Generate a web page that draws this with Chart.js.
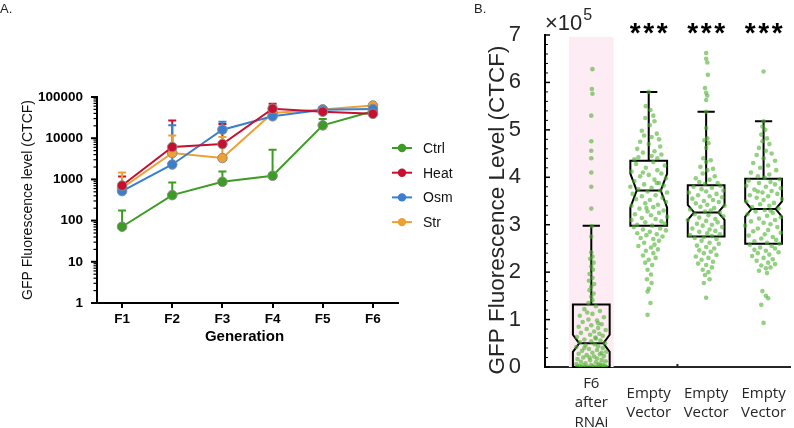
<!DOCTYPE html>
<html><head><meta charset="utf-8">
<script src="https://cdn.jsdelivr.net/npm/chart.js@4.4.0/dist/chart.umd.min.js"></script>
<style>
html,body{margin:0;padding:0;background:#fff;}
body{width:794px;height:428px;position:relative;overflow:hidden;}
#ca{position:absolute;left:0;top:0;}
#cb{position:absolute;left:400px;top:0;}
</style></head><body>
<canvas id="ca" width="470" height="350"></canvas>
<canvas id="cb" width="394" height="428"></canvas>
<script>
// ---------- Panel A data ----------
const generations = ['F1','F2','F3','F4','F5','F6'];
const seriesNames = ['Ctrl','Heat','Osm','Str'];
const seriesColors = ['#3d9c23','#c8102e','#3a7fcf','#eea033'];
const ctrlMean = [71, 415, 875, 1225, 20500, 45000];
const ctrlErr  = [175, 840, 1560, 5250, 29300, null];
const heatMean = [710, 6100, 7200, 52000, 44000, 39000];
const heatErr  = [1180, 27000, 22000, 69000, null, null];
const osmMean  = [520, 2300, 16100, 34000, 49000, 51000];
const osmErr   = [null, 20500, 25000, null, 56000, null];
const strMean  = [620, 4370, 3300, 41000, 50000, 62000];
const strErr   = [1470, 11700, 10700, null, null, null];
const yTickLabelsA = ['1','10','100','1000','10000','100000'];
const yTitleA = 'GFP Fluorescence level (CTCF)';
const xTitleA = 'Generation';

// ---------- Panel B data ----------
const groupLabels = [['F6','after','RNAi'],['Empty','Vector'],['Empty','Vector'],['Empty','Vector']];
const groupPos = [1,2,3,4];
const boxQ1     = [0.0, 2.98, 2.75, 2.6];
const boxMedian = [0.5, 3.72, 3.26, 3.33];
const boxQ3     = [1.32, 4.35, 3.83, 3.97];
const notchLo   = [0.32, 3.36, 3.1, 3.17];
const notchHi   = [0.68, 4.08, 3.42, 3.49];
const whiskerHi = [2.98, 5.8, 5.38, 5.18];
const signif    = ['', '***', '***', '***'];
const yTicksB   = [0,1,2,3,4,5,6,7];
const yTitleB   = 'GFP Fluorescence Level (CTCF)';
const yExponentB = '5';
// points: [jitter offset (category units), value ×10^5]
const pts1 = [[0.02,6.28],[0.01,5.86],[0.02,5.76],[0,5.3],[0,4.76],[0,4.56],[0,4.4],[0,4.1],[0,3.8],[0,3.34],
[0.01,2.97],[0,2.75],[0,2.42],[0.02,2.33],[-0.02,2.28],[0.04,2.2],[0,2.12],[0.03,2.05],[-0.03,1.96],[0.02,1.88],[-0.04,1.82],[0.05,1.75],[0,1.69],[-0.03,1.62],[0.04,1.55],[0,1.48],[0.02,1.41],[-0.05,1.35],
[0.08,1.28],[-0.12,1.22],[0.15,1.18],[0.02,1.12],[-0.2,1.08],[0.22,1.05],[-0.05,1.0],[0.1,0.98],[-0.15,0.95],[0.18,0.9],[0,0.88],[-0.22,0.85],[0.12,0.82],[-0.08,0.8],[0.25,0.78],[0.05,0.75],[-0.18,0.72],[0.14,0.7],[-0.02,0.68],[0.2,0.66],[-0.25,0.63],[0.08,0.6],[-0.12,0.58],[0.16,0.56],[0,0.54],[-0.2,0.52],[0.24,0.5],[0.06,0.48],[-0.1,0.46],[0.12,0.44],[-0.26,0.42],[0.2,0.4],[-0.04,0.38],[0.1,0.36],[-0.16,0.34],[0.26,0.32],[0.02,0.3],[-0.22,0.28],[0.15,0.27],[-0.08,0.25],[0.22,0.23],[0.05,0.22],[-0.14,0.2],[0.1,0.18],[-0.24,0.17],[0.18,0.15],[-0.02,0.14],[0.25,0.12],[-0.18,0.11],[0.08,0.1],[-0.1,0.08],[0.14,0.07],[-0.26,0.06],[0.2,0.05],[0,0.04],[-0.14,0.03],[0.12,0.03],[-0.2,0.02],[0.24,0.02],[0.05,0.01],[-0.06,0.01],[0.16,0.02],[-0.24,0.01],[0.1,0],[-0.1,0],[0.2,0],[-0.18,0],[0.02,0.01],[0.26,0],[-0.03,0.2],[0.07,0.62],[-0.07,1.15],[0.12,0.92],[-0.12,0.4],[0.18,0.3]];
const pts2 = [[0,5.8],[-0.05,5.5],[0.03,5.42],[0.08,5.3],[-0.06,5.25],[0.1,5.18],[0.02,5.1],[-0.12,4.98],[0.14,4.92],[-0.08,4.88],[0.05,4.85],[0.18,4.8],[-0.15,4.75],[0,4.7],[0.2,4.65],[-0.2,4.6],[0.1,4.55],[-0.1,4.52],[0.22,4.48],[0.05,4.45],[-0.18,4.42],[0.15,4.4],[-0.25,4.38],
[0.08,4.32],[-0.22,4.28],[0.28,4.25],[-0.05,4.2],[0.15,4.15],[-0.3,4.12],[0.22,4.08],[0,4.05],[-0.15,4.02],[0.3,3.98],[0.1,3.95],[-0.25,3.92],[0.18,3.88],[-0.08,3.85],[0.26,3.82],[-0.32,3.8],[0.05,3.78],[-0.18,3.75],[0.2,3.72],[-0.02,3.7],[0.32,3.68],[-0.28,3.65],[0.12,3.62],[-0.12,3.6],[0.24,3.57],[-0.22,3.54],[0.02,3.52],[0.3,3.48],[-0.06,3.45],[0.16,3.42],[-0.3,3.4],[0.08,3.37],[-0.16,3.34],[0.26,3.3],[-0.02,3.28],[0.18,3.25],[-0.24,3.22],[0.04,3.2],[0.32,3.17],[-0.12,3.14],[0.12,3.12],[-0.3,3.1],[0.22,3.07],[-0.06,3.05],[0.28,3.02],[-0.2,3.0],[0.06,2.98],[0.14,3.88],[-0.1,4.1],[-0.04,3.35],
[-0.26,2.95],[0.2,2.92],[-0.1,2.9],[0.3,2.88],[0.02,2.85],[-0.2,2.82],[0.14,2.8],[-0.04,2.78],[0.24,2.75],[-0.14,2.72],[0.08,2.7],[0.18,2.66],[-0.08,2.62],[0.1,2.58],[-0.18,2.55],[0.04,2.52],[0.16,2.48],[-0.05,2.45],[0.08,2.4],[-0.1,2.35],[0.12,2.3],[0,2.26],[-0.06,2.2],[0.06,2.15],[-0.02,2.05],[0.04,1.95],[-0.03,1.85],[0.05,1.77],[0,1.65],[-0.02,1.59],[0.03,1.35],[-0.02,1.1]];
const pts3 = [[0,6.62],[0,6.5],[0.02,6.42],[0.03,6.16],[-0.02,5.88],[0,5.78],[0.02,5.72],[0,5.63],[0,5.38],[0,5.04],[0.02,4.82],[-0.03,4.78],[0.04,4.72],[0,4.62],[-0.05,4.4],[0.08,4.36],[0,4.32],[-0.1,4.22],[0.12,4.18],[0.02,4.15],[-0.06,4.08],[0.15,4.02],[-0.18,3.98],[0.06,3.95],[-0.12,3.9],[0.2,3.88],[-0.02,3.86],
[0.25,3.82],[-0.22,3.8],[0.1,3.78],[-0.08,3.75],[0.3,3.72],[0,3.7],[-0.3,3.68],[0.18,3.65],[-0.14,3.62],[0.06,3.6],[0.28,3.58],[-0.24,3.55],[0.12,3.52],[-0.04,3.5],[0.22,3.48],[-0.18,3.45],[0.02,3.42],[0.32,3.4],[-0.1,3.38],[0.14,3.35],[-0.28,3.32],[0.08,3.3],[-0.02,3.28],[0.24,3.25],[-0.2,3.22],[0.04,3.2],[0.3,3.18],[-0.12,3.15],[0.16,3.12],[-0.32,3.1],[0,3.08],[0.2,3.05],[-0.16,3.02],[0.1,3.0],[-0.06,2.98],[0.28,2.95],[-0.24,2.92],[0.06,2.9],[0.16,2.87],[-0.12,2.85],[0.02,2.82],[0.24,2.8],[-0.28,2.78],[0.1,2.76],[-0.04,2.74],
[-0.2,2.72],[0.18,2.7],[-0.08,2.66],[0.06,2.62],[0.22,2.6],[-0.16,2.56],[0,2.53],[0.14,2.5],[-0.12,2.46],[0.08,2.43],[-0.04,2.4],[0.18,2.36],[-0.18,2.33],[0.04,2.3],[-0.08,2.26],[0.12,2.22],[-0.14,2.18],[0,2.15],[0.1,2.1],[-0.06,2.05],[0.04,2.0],[-0.02,1.94],[0.06,1.85],[-0.04,1.77],[0,1.46]];
const pts4 = [[0,6.23],[0,5.18],[-0.02,5.07],[0.03,5.0],[-0.04,4.9],[0.06,4.82],[-0.02,4.76],[0.1,4.7],[-0.08,4.62],[0.04,4.56],[0.14,4.5],[-0.12,4.47],[0,4.4],[0.2,4.35],[-0.18,4.3],[0.08,4.25],[-0.06,4.2],[0.22,4.15],[-0.22,4.1],[0.1,4.06],[-0.1,4.02],[0.02,3.99],
[0.28,3.96],[-0.26,3.93],[0.12,3.9],[-0.08,3.88],[0.2,3.85],[-0.3,3.82],[0.04,3.8],[0.3,3.77],[-0.16,3.74],[0.14,3.71],[-0.02,3.68],[0.24,3.65],[-0.24,3.62],[0.08,3.6],[-0.12,3.57],[0.32,3.54],[0,3.52],[-0.3,3.49],[0.18,3.46],[-0.06,3.43],[0.1,3.4],[-0.2,3.37],[0.26,3.34],[0.02,3.31],[-0.14,3.28],[0.16,3.25],[-0.28,3.22],[0.06,3.19],[0.3,3.16],[-0.08,3.13],[0.2,3.1],[-0.22,3.07],[0,3.04],[0.12,3.01],[-0.32,2.98],[0.24,2.95],[-0.1,2.92],[0.08,2.89],[-0.18,2.86],[0.3,2.83],[0.02,2.8],[-0.26,2.77],[0.16,2.74],[-0.04,2.71],[0.22,2.68],[-0.16,2.65],[0.06,2.62],[0.28,2.6],[-0.1,3.7],[0.12,3.3],
[-0.24,2.58],[0.14,2.55],[-0.06,2.52],[0.2,2.5],[-0.16,2.47],[0.04,2.45],[0.26,2.42],[-0.1,2.4],[0.1,2.37],[-0.2,2.34],[0,2.3],[0.16,2.27],[-0.12,2.24],[0.08,2.2],[0.2,2.17],[-0.04,2.14],[0.12,2.1],[0.04,2.08],[-0.08,2.03],[0.06,1.98],[-0.02,1.6],[0.04,1.5],[-0.04,1.31],[0,0.93],[0.08,1.45]];

// ---------- Panel A chart ----------
const meansA = [ctrlMean, heatMean, osmMean, strMean];
const errsA = [ctrlErr, heatErr, osmErr, strErr];
const drawOrder = [3, 0, 1, 2]; // Heat on top
const FONT = "'Liberation Sans', Arial, sans-serif";

const pluginA = {
  id: 'panelA',
  beforeDatasetsDraw(chart) {
    const ctx = chart.ctx, xs = chart.scales.x, ys = chart.scales.y;
    ctx.save();
    ctx.lineWidth = 2;
    errsA.forEach((errs, i) => {
      ctx.strokeStyle = seriesColors[i];
      errs.forEach((e, j) => {
        if (e == null) return;
        const x = xs.getPixelForValue(j);
        const y1 = ys.getPixelForValue(meansA[i][j]);
        const y2 = ys.getPixelForValue(e);
        ctx.beginPath();
        ctx.moveTo(x, y1); ctx.lineTo(x, y2);
        ctx.moveTo(x - 4, y2); ctx.lineTo(x + 4, y2);
        ctx.stroke();
      });
    });
    ctx.restore();
  },
  afterDraw(chart) {
    const ctx = chart.ctx, ys = chart.scales.y, ca = chart.chartArea;
    ctx.save();
    ctx.strokeStyle = '#000';
    for (let k = 0; k < yTickLabelsA.length; k++) {
      const base = +yTickLabelsA[k];
      const y = ys.getPixelForValue(base);
      ctx.lineWidth = 2;
      ctx.beginPath(); ctx.moveTo(ca.left - 6, y); ctx.lineTo(ca.left, y); ctx.stroke();
      if (k < yTickLabelsA.length - 1) {
        ctx.lineWidth = 1.2;
        for (let m = 2; m <= 9; m++) {
          const ym = ys.getPixelForValue(base * m);
          ctx.beginPath(); ctx.moveTo(ca.left - 3.5, ym); ctx.lineTo(ca.left, ym); ctx.stroke();
        }
      }
    }
    // legend
    const ly0 = 148, lstep = 24.7;
    seriesNames.forEach((n, i) => {
      const y = ly0 + i * lstep;
      ctx.strokeStyle = seriesColors[i]; ctx.lineWidth = 2;
      ctx.beginPath(); ctx.moveTo(392, y); ctx.lineTo(412, y); ctx.stroke();
      ctx.fillStyle = seriesColors[i];
      ctx.beginPath(); ctx.arc(402, y, 4.2, 0, Math.PI * 2); ctx.fill();
      ctx.fillStyle = '#111'; ctx.font = '14px ' + FONT;
      ctx.textAlign = 'left'; ctx.textBaseline = 'middle';
      ctx.fillText(n, 423, y + 1);
    });
    // titles
    ctx.fillStyle = '#000';
    ctx.font = 'bold 15px ' + FONT; ctx.textAlign = 'center'; ctx.textBaseline = 'middle';
    ctx.fillText(xTitleA, (ca.left + ca.right) / 2 - 3, 337);
    ctx.save();
    ctx.translate(28, (ca.top + ca.bottom) / 2);
    ctx.rotate(-Math.PI / 2);
    ctx.font = '14px ' + FONT; ctx.fillStyle = '#111';
    ctx.fillText(yTitleA, 0, 0);
    ctx.restore();
    ctx.font = '13px ' + FONT; ctx.textAlign = 'left'; ctx.textBaseline = 'alphabetic'; ctx.fillStyle = '#222';
    ctx.fillText('A.', 0, 13);
    ctx.restore();
  }
};

new Chart(document.getElementById('ca'), {
  type: 'line',
  data: {
    labels: generations,
    datasets: meansA.map((m, i) => ({
      label: seriesNames[i],
      data: m,
      borderColor: seriesColors[i],
      backgroundColor: seriesColors[i],
      borderWidth: 2,
      pointRadius: 4.8,
      pointBackgroundColor: seriesColors[i],
      pointBorderColor: '#8c8c8c',
      pointBorderWidth: 1,
      tension: 0,
      order: drawOrder[i]
    }))
  },
  options: {
    responsive: false, animation: false,
    layout: { padding: { top: 97, right: 72, left: 0, bottom: 0 } },
    plugins: { legend: { display: false }, tooltip: { enabled: false } },
    scales: {
      x: {
        type: 'category', offset: true,
        grid: { display: true, drawOnChartArea: false, tickLength: 5, color: '#000', lineWidth: 2 },
        border: { display: true, color: '#000', width: 2 },
        ticks: { font: { family: FONT, weight: 'bold', size: 13.5 }, color: '#000', padding: 3 },
        afterFit(s) { s.height = 47; }
      },
      y: {
        type: 'logarithmic', min: 1, max: 100000,
        afterBuildTicks(s) { s.ticks = yTickLabelsA.map(t => ({ value: +t, major: true })); },
        grid: { display: false },
        border: { display: true, color: '#000', width: 2 },
        ticks: { font: { family: FONT, weight: 'bold', size: 13.5 }, color: '#000', padding: 6,
          callback: (v, i) => yTickLabelsA[i] },
        afterFit(s) { s.width = 97; }
      }
    }
  },
  plugins: [pluginA]
});

// ---------- Panel B chart ----------
const ptsB = [pts1, pts2, pts3, pts4];
const BOX_HW = 0.32, NOTCH_HW = 0.21, CAP_HW = 0.15, BAND_HW = 0.39;

const pluginB = {
  id: 'panelB',
  beforeDatasetsDraw(chart) {
    const ctx = chart.ctx, xs = chart.scales.x, ys = chart.scales.y, ca = chart.chartArea;
    ctx.save();
    const bx1 = xs.getPixelForValue(groupPos[0] - BAND_HW), bx2 = xs.getPixelForValue(groupPos[0] + BAND_HW);
    const by = ys.getPixelForValue(6.96);
    ctx.fillStyle = 'rgb(253,236,243)';
    ctx.fillRect(bx1, by, bx2 - bx1, ca.bottom - by);
    ctx.strokeStyle = '#000'; ctx.lineWidth = 2; ctx.lineJoin = 'miter';
    groupPos.forEach((g, i) => {
      const X = v => xs.getPixelForValue(g + v);
      const Y = v => ys.getPixelForValue(v);
      ctx.beginPath();
      ctx.moveTo(X(0), Y(boxQ3[i])); ctx.lineTo(X(0), Y(whiskerHi[i]));
      ctx.moveTo(X(-CAP_HW), Y(whiskerHi[i])); ctx.lineTo(X(CAP_HW), Y(whiskerHi[i]));
      ctx.stroke();
      ctx.beginPath();
      ctx.moveTo(X(-BOX_HW), Y(boxQ1[i]));
      ctx.lineTo(X(-BOX_HW), Y(notchLo[i]));
      ctx.lineTo(X(-NOTCH_HW), Y(boxMedian[i]));
      ctx.lineTo(X(-BOX_HW), Y(notchHi[i]));
      ctx.lineTo(X(-BOX_HW), Y(boxQ3[i]));
      ctx.lineTo(X(BOX_HW), Y(boxQ3[i]));
      ctx.lineTo(X(BOX_HW), Y(notchHi[i]));
      ctx.lineTo(X(NOTCH_HW), Y(boxMedian[i]));
      ctx.lineTo(X(BOX_HW), Y(notchLo[i]));
      ctx.lineTo(X(BOX_HW), Y(boxQ1[i]));
      ctx.closePath();
      ctx.moveTo(X(-NOTCH_HW), Y(boxMedian[i])); ctx.lineTo(X(NOTCH_HW), Y(boxMedian[i]));
      ctx.stroke();
    });
    ctx.restore();
  },
  afterDraw(chart) {
    const ctx = chart.ctx, xs = chart.scales.x, ys = chart.scales.y, ca = chart.chartArea;
    ctx.save();
    ctx.strokeStyle = '#000';
    for (let k = 0; k <= 35; k++) {
      const v = k * 0.2;
      const y = ys.getPixelForValue(v);
      const major = k % 5 === 0;
      ctx.lineWidth = major ? 1.5 : 1;
      ctx.beginPath(); ctx.moveTo(ca.left, y); ctx.lineTo(ca.left + (major ? 5 : 3), y); ctx.stroke();
    }
    ctx.fillStyle = '#222';
    ctx.fillRect(xs.getPixelForValue(2.5) - 1, ca.bottom - 3, 2, 3);
    ctx.fillStyle = '#262626'; ctx.textAlign = 'left'; ctx.textBaseline = 'alphabetic';
    ctx.font = '22px ' + FONT;
    ctx.fillText('\u00d710', 145, 30);
    const w = ctx.measureText('\u00d710').width;
    ctx.font = '16px ' + FONT;
    ctx.fillText(yExponentB, 145 + w + 1, 20);
    ctx.font = 'bold 28px ' + FONT; ctx.textAlign = 'center'; ctx.fillStyle = '#000';
    groupPos.forEach((g, i) => {
      if (!signif[i]) return;
      const x = xs.getPixelForValue(g);
      const n = signif[i].length;
      for (let s = 0; s < n; s++) ctx.fillText('*', x + (s - (n - 1) / 2) * 13.5, 42);
    });
    ctx.font = "15px 'Open Sans', sans-serif"; ctx.fillStyle = '#262626'; ctx.textBaseline = 'middle';
    groupPos.forEach((g, i) => {
      const x = xs.getPixelForValue(g);
      const lines = groupLabels[i];
      lines.forEach((t, j) => {
        ctx.fillText(t, x, 403 + (j - (lines.length - 1) / 2) * 19.5);
      });
    });
    ctx.save();
    ctx.translate(98, 210);
    ctx.rotate(-Math.PI / 2);
    ctx.font = '22.5px ' + FONT; ctx.fillStyle = '#262626'; ctx.textAlign = 'center'; ctx.textBaseline = 'middle';
    ctx.fillText(yTitleB, 0, 0);
    ctx.restore();
    ctx.font = '13px ' + FONT; ctx.textAlign = 'left'; ctx.textBaseline = 'alphabetic'; ctx.fillStyle = '#222';
    ctx.fillText('B.', 74, 13);
    ctx.restore();
  }
};

new Chart(document.getElementById('cb'), {
  type: 'scatter',
  data: {
    datasets: ptsB.map((arr, g) => ({
      data: arr.map(p => ({ x: groupPos[g] + p[0], y: p[1] })),
      pointRadius: 2.3,
      pointBackgroundColor: 'rgba(76,176,46,0.6)',
      pointBorderWidth: 0
    }))
  },
  options: {
    responsive: false, animation: false,
    layout: { padding: { top: 35, right: 0, left: 0, bottom: 0 } },
    plugins: { legend: { display: false }, tooltip: { enabled: false } },
    scales: {
      x: {
        type: 'linear', min: 0.194, max: 4.46,
        grid: { display: false },
        border: { display: true, color: '#262626', width: 2 },
        ticks: { display: false },
        afterFit(s) { s.height = 61; }
      },
      y: {
        type: 'linear', min: 0, max: 7,
        afterBuildTicks(s) { s.ticks = yTicksB.map(v => ({ value: v })); },
        grid: { display: false },
        border: { display: true, color: '#000', width: 2 },
        ticks: { font: { family: FONT, size: 22 }, color: '#262626', padding: 16,
          callback: (v) => String(v) },
        afterFit(s) { s.width = 145; }
      }
    }
  },
  plugins: [pluginB]
});
</script>
</body></html>
